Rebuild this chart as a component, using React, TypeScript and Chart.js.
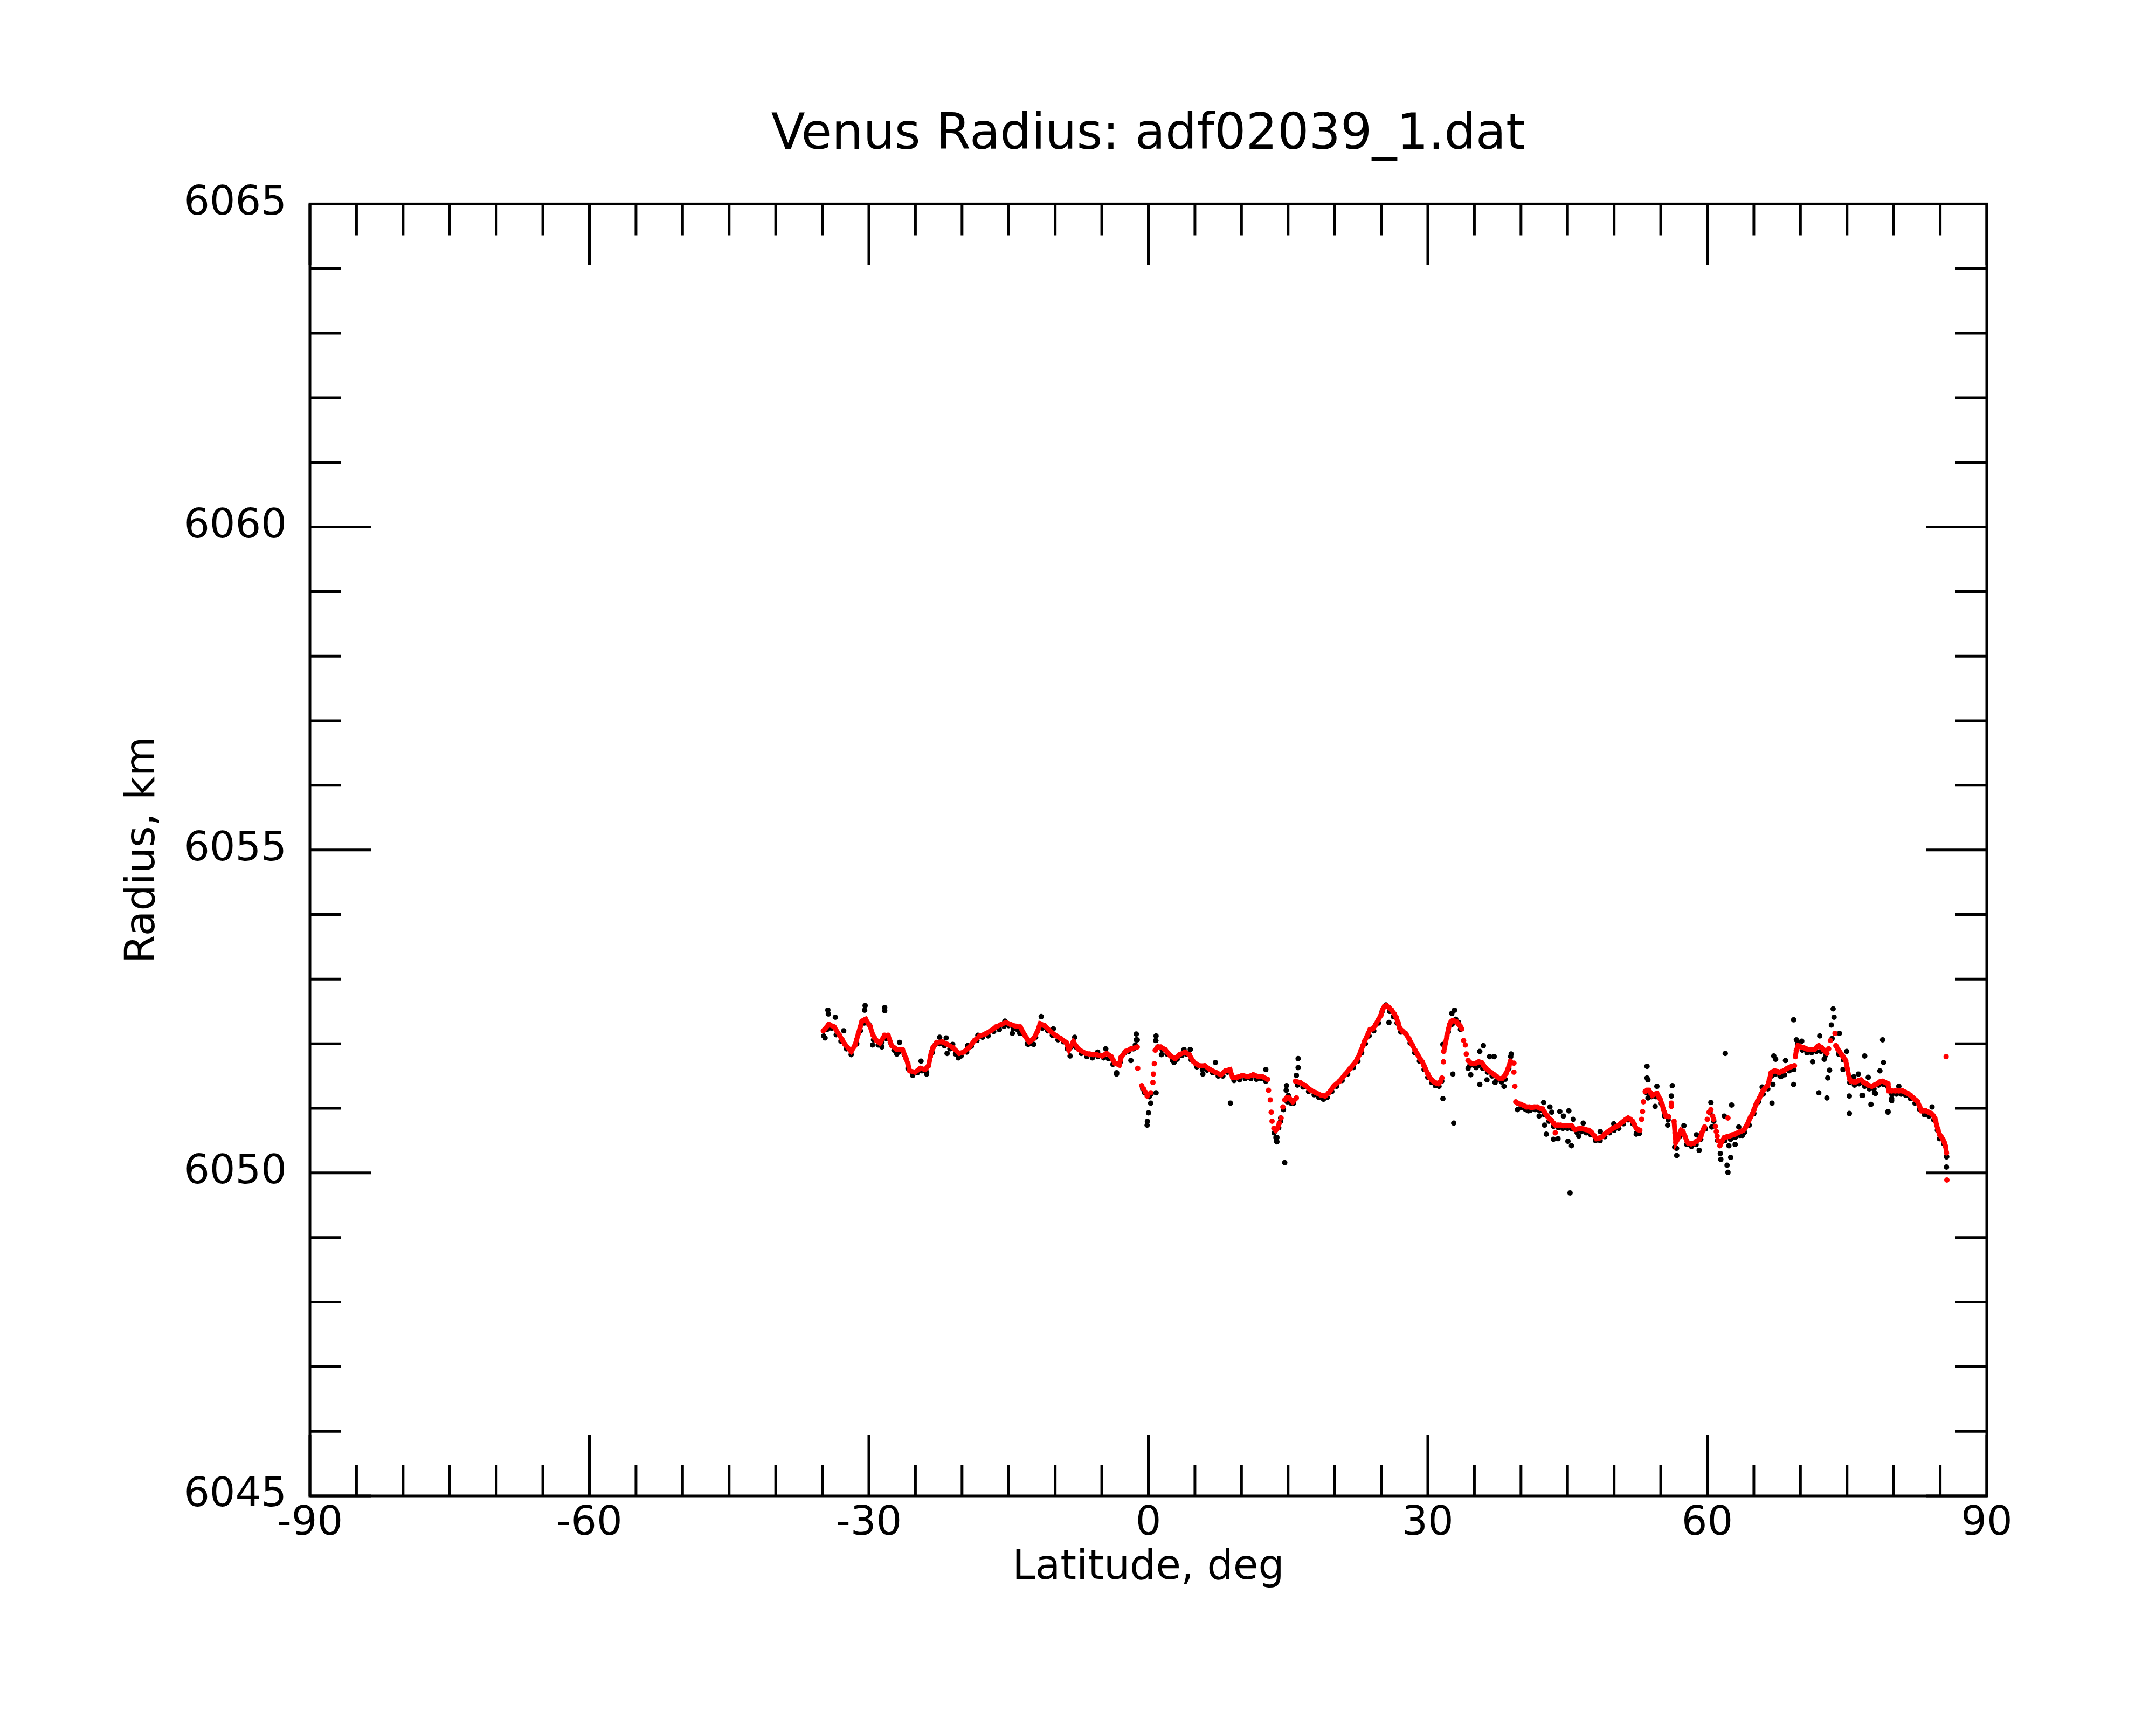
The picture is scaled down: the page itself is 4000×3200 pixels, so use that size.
import React, { useEffect, useRef } from "react";
import { Chart, registerables } from "chart.js";

Chart.register(...registerables);

// ---- axis definitions ----
const xTickLabels = [-90, -60, -30, 0, 30, 60, 90];
const yTickLabels = [6045, 6050, 6055, 6060, 6065];
const xMinorStep = 5;
const yMinorStep = 1;

const titleText = "Venus Radius: adf02039_1.dat";
const xTitle = "Latitude, deg";
const yTitle = "Radius, km";

// ---- smoothed radius (red), continuous runs : [latitude, radius] ----
const redRun1: [number, number][] = [
  [-34.89, 6052.2], [-34.3, 6052.3], [-33.73, 6052.26], [-33.15, 6052.13], [-32.86, 6052.06],
  [-32.57, 6051.99], [-31.9, 6051.88], [-31.51, 6051.97], [-31.32, 6052.06], [-31.12, 6052.16],
  [-30.93, 6052.26], [-30.74, 6052.35], [-30.35, 6052.38], [-29.87, 6052.27], [-29.58, 6052.14],
  [-29.39, 6052.09], [-29.19, 6052.05], [-28.81, 6052.01], [-28.32, 6052.13], [-27.94, 6052.13],
  [-27.55, 6051.97], [-26.97, 6051.91], [-26.39, 6051.91], [-26.01, 6051.77], [-25.81, 6051.69],
  [-25.62, 6051.58], [-25.04, 6051.56], [-24.46, 6051.62], [-23.98, 6051.6], [-23.59, 6051.66],
  [-23.4, 6051.8], [-23.3, 6051.87], [-23.11, 6051.94], [-22.72, 6052.02], [-22.14, 6052.03],
  [-21.57, 6051.99], [-20.99, 6051.94], [-20.31, 6051.85], [-19.83, 6051.87], [-19.25, 6051.94],
  [-18.67, 6052.05], [-18.09, 6052.12], [-17.51, 6052.15], [-16.93, 6052.2], [-16.35, 6052.26],
  [-15.77, 6052.3], [-15.29, 6052.33], [-14.81, 6052.3], [-14.23, 6052.27], [-13.75, 6052.26],
  [-13.26, 6052.13], [-13.03, 6052.08], [-12.78, 6052.03], [-12.3, 6052.08], [-11.91, 6052.19],
  [-11.76, 6052.25], [-11.62, 6052.31], [-11.14, 6052.28], [-10.56, 6052.2], [-9.98, 6052.13],
  [-9.4, 6052.08], [-8.82, 6052.02], [-8.53, 6051.91], [-8.05, 6052.03], [-7.47, 6051.91],
  [-6.7, 6051.85], [-6.31, 6051.84], [-5.93, 6051.83], [-5.54, 6051.83], [-4.96, 6051.81],
  [-4.48, 6051.85], [-3.99, 6051.8], [-3.8, 6051.75], [-3.61, 6051.7], [-3.12, 6051.67],
  [-2.93, 6051.79], [-2.45, 6051.88], [-1.87, 6051.92], [-1.19, 6051.95],
];

const redRun2: [number, number][] = [
  [0.74, 6051.9], [1.03, 6051.95], [1.32, 6051.95], [1.8, 6051.91], [2.09, 6051.86],
  [2.38, 6051.81], [2.86, 6051.77], [3.34, 6051.83], [3.92, 6051.87], [4.4, 6051.83],
  [4.79, 6051.73], [5.08, 6051.69], [5.47, 6051.66], [6.05, 6051.66], [6.62, 6051.6],
  [7.2, 6051.56], [7.78, 6051.52], [8.27, 6051.58], [8.75, 6051.6], [9.04, 6051.48],
  [9.52, 6051.48], [10.1, 6051.51], [10.68, 6051.49], [11.26, 6051.52], [11.84, 6051.49],
  [12.22, 6051.49], [12.8, 6051.45],
];

const redRun3: [number, number][] = [
  [13.48, 6050.69], [13.67, 6050.66], [13.86, 6050.69], [14.06, 6050.77],
];

const redRun4: [number, number][] = [
  [14.64, 6051.13], [14.83, 6051.16], [15.12, 6051.16], [15.5, 6051.1], [15.89, 6051.16],
];

const redRun5: [number, number][] = [
  [15.79, 6051.42], [16.28, 6051.4], [16.86, 6051.35], [17.44, 6051.28], [18.01, 6051.24],
  [18.59, 6051.2], [18.98, 6051.19], [19.37, 6051.24], [19.94, 6051.35], [20.52, 6051.42],
  [21.1, 6051.52], [21.68, 6051.62], [22.26, 6051.72], [22.45, 6051.77], [22.65, 6051.83],
  [22.84, 6051.9], [23.03, 6051.97], [23.22, 6052.04], [23.42, 6052.1], [23.61, 6052.16],
  [23.8, 6052.22], [24.09, 6052.23], [24.38, 6052.29], [24.67, 6052.37], [24.96, 6052.44],
  [25.15, 6052.53], [25.35, 6052.58], [25.54, 6052.59], [25.83, 6052.56], [26.12, 6052.52],
  [26.41, 6052.46], [26.6, 6052.41], [26.8, 6052.33], [26.99, 6052.24], [27.33, 6052.19],
  [27.66, 6052.15], [28.0, 6052.07], [28.34, 6051.98], [28.63, 6051.9], [28.92, 6051.83],
  [29.16, 6051.77], [29.4, 6051.72], [29.59, 6051.66], [29.78, 6051.6], [29.98, 6051.54],
  [30.17, 6051.48], [30.41, 6051.44], [30.65, 6051.41], [30.9, 6051.39], [31.14, 6051.38],
  [31.33, 6051.41], [31.52, 6051.47],
];

const redRun6: [number, number][] = [
  [31.71, 6051.88], [31.81, 6051.95], [31.91, 6052.02], [32.05, 6052.12], [32.2, 6052.22],
  [32.34, 6052.3], [32.49, 6052.34], [32.68, 6052.36], [32.87, 6052.35], [33.07, 6052.34],
  [33.26, 6052.31], [33.45, 6052.28], [33.65, 6052.23],
];

const redRun7: [number, number][] = [
  [34.32, 6051.74], [34.61, 6051.7], [34.9, 6051.69], [35.19, 6051.7], [35.48, 6051.72],
  [35.77, 6051.71], [35.96, 6051.67], [36.16, 6051.63], [36.54, 6051.58], [36.83, 6051.55],
  [37.12, 6051.52], [37.41, 6051.49], [37.7, 6051.46], [37.95, 6051.46], [38.18, 6051.49],
  [38.4, 6051.54], [38.57, 6051.6], [38.72, 6051.66], [38.86, 6051.73],
];

const redRun8: [number, number][] = [
  [39.63, 6051.08], [40.02, 6051.06], [40.31, 6051.04], [40.6, 6051.02], [40.89, 6051.02],
  [41.17, 6051.01], [41.46, 6051.02], [41.75, 6051.02], [42.04, 6051.0], [42.33, 6050.99],
  [42.57, 6050.93], [42.82, 6050.88], [43.06, 6050.84], [43.3, 6050.81], [43.49, 6050.77],
  [43.68, 6050.74], [43.97, 6050.74], [44.26, 6050.74], [44.55, 6050.73], [44.84, 6050.73],
  [45.13, 6050.73], [45.42, 6050.73], [45.62, 6050.7], [45.81, 6050.67], [46.1, 6050.68],
  [46.39, 6050.69], [46.68, 6050.68], [46.97, 6050.67], [47.26, 6050.66], [47.55, 6050.63],
  [47.84, 6050.58], [48.12, 6050.53], [48.41, 6050.54], [48.7, 6050.56], [48.99, 6050.6],
  [49.28, 6050.63], [49.57, 6050.66], [49.86, 6050.69], [50.15, 6050.71], [50.44, 6050.73],
  [50.73, 6050.77], [51.02, 6050.8], [51.26, 6050.83], [51.5, 6050.85], [51.74, 6050.83],
  [51.98, 6050.8], [52.18, 6050.75], [52.37, 6050.69], [52.56, 6050.67], [52.76, 6050.66],
];

const redRun9: [number, number][] = [
  [53.34, 6051.26], [53.53, 6051.28], [53.73, 6051.28], [53.92, 6051.24], [54.11, 6051.2],
  [54.35, 6051.22], [54.59, 6051.23], [54.79, 6051.18], [54.98, 6051.13], [55.17, 6051.05],
  [55.27, 6050.99], [55.4, 6050.94], [55.56, 6050.88], [55.85, 6050.87],
];

const redRun10: [number, number][] = [
  [56.43, 6050.8], [56.53, 6050.62], [56.62, 6050.47], [56.81, 6050.52], [57.01, 6050.6],
  [57.2, 6050.66], [57.39, 6050.64], [57.59, 6050.57], [57.78, 6050.5], [57.97, 6050.46],
  [58.26, 6050.45], [58.55, 6050.46], [58.84, 6050.49], [59.13, 6050.52], [59.32, 6050.57],
  [59.42, 6050.62], [59.61, 6050.68], [59.71, 6050.71],
];

const redRun11: [number, number][] = [
  [61.35, 6050.42], [61.54, 6050.48], [61.83, 6050.55], [62.12, 6050.56], [62.41, 6050.57],
  [62.7, 6050.59], [62.99, 6050.6], [63.28, 6050.62], [63.57, 6050.64], [63.86, 6050.66],
  [64.05, 6050.69], [64.25, 6050.74], [64.44, 6050.8], [64.63, 6050.86], [64.83, 6050.91],
  [65.02, 6050.98], [65.21, 6051.05], [65.4, 6051.11], [65.6, 6051.16], [65.79, 6051.22],
  [65.98, 6051.27], [66.18, 6051.31], [66.47, 6051.35], [66.66, 6051.44], [66.85, 6051.55],
  [67.05, 6051.57], [67.24, 6051.58], [67.53, 6051.57], [67.72, 6051.55], [67.92, 6051.57],
  [68.2, 6051.58], [68.49, 6051.61], [68.78, 6051.63], [69.07, 6051.65], [69.36, 6051.66],
];

const redRun12: [number, number][] = [
  [69.46, 6051.8], [69.56, 6051.9], [69.75, 6051.97], [70.04, 6051.95], [70.33, 6051.94],
  [70.62, 6051.92], [70.91, 6051.91], [71.2, 6051.91], [71.49, 6051.91], [71.78, 6051.95],
  [71.97, 6051.97], [72.26, 6051.94], [72.45, 6051.91], [72.84, 6051.85],
];

const redRun13: [number, number][] = [
  [73.8, 6051.97], [74.0, 6051.92], [74.19, 6051.88], [74.38, 6051.84], [74.57, 6051.8],
  [74.86, 6051.74], [75.06, 6051.6], [75.25, 6051.46], [75.44, 6051.42], [75.69, 6051.41],
  [75.93, 6051.41], [76.22, 6051.43], [76.51, 6051.44], [76.8, 6051.4], [77.09, 6051.38],
  [77.38, 6051.35], [77.66, 6051.34], [77.95, 6051.36], [78.24, 6051.38], [78.53, 6051.41],
  [78.83, 6051.42], [79.11, 6051.4], [79.4, 6051.38], [79.5, 6051.27], [79.79, 6051.27],
  [80.18, 6051.27], [80.56, 6051.27], [80.95, 6051.27], [81.24, 6051.25], [81.53, 6051.23],
  [81.82, 6051.2], [82.11, 6051.16], [82.35, 6051.13], [82.59, 6051.1], [82.79, 6051.03],
  [82.98, 6050.96], [83.22, 6050.96], [83.46, 6050.96], [83.75, 6050.94], [84.04, 6050.92],
  [84.23, 6050.89], [84.42, 6050.85], [84.52, 6050.8], [84.62, 6050.74], [84.76, 6050.67],
  [84.91, 6050.6], [85.1, 6050.56], [85.29, 6050.52], [85.48, 6050.46], [85.58, 6050.41],
  [85.68, 6050.31],
];

// ---- smoothed radius (red), isolated points ----
const redSparse: [number, number][] = [
  [-1.14, 6051.62], [-0.71, 6051.35], [-0.52, 6051.3], [-0.32, 6051.25], [-0.13, 6051.19],
  [0.25, 6051.24], [0.49, 6051.4], [0.54, 6051.53], [0.64, 6051.69],
  [12.9, 6051.28], [13.09, 6051.13], [13.19, 6050.94], [13.28, 6050.8], [14.25, 6050.85],
  [14.44, 6051.02], [31.68, 6051.72], [33.84, 6052.05], [34.03, 6051.98], [34.13, 6051.84],
  [39.24, 6051.7], [39.24, 6051.56], [39.34, 6051.34], [39.44, 6051.1], [43.68, 6050.62],
  [52.95, 6050.83], [53.05, 6050.95], [53.15, 6051.1], [56.14, 6051.08], [56.14, 6051.03],
  [60.0, 6050.83], [60.19, 6050.94], [60.39, 6050.98], [60.58, 6050.88], [60.68, 6050.83],
  [60.87, 6050.72], [60.97, 6050.64], [61.06, 6050.57], [61.16, 6050.5], [62.22, 6050.85],
  [73.03, 6051.92], [73.22, 6052.05], [73.71, 6052.16], [85.64, 6051.8], [85.72, 6049.89],
];

// ---- raw radius (black) close to the smoothed profile ----
const blackNear: [number, number][] = [
  [-34.85, 6052.12], [-34.5, 6052.22], [-34.0, 6052.24], [-33.5, 6052.14], [-33.0, 6052.04],
  [-32.4, 6051.92], [-31.9, 6051.83], [-31.3, 6052.0], [-30.9, 6052.2], [-30.5, 6052.32],
  [-30.0, 6052.3], [-29.5, 6052.06], [-29.0, 6051.98], [-28.6, 6052.02], [-28.1, 6052.08],
  [-27.7, 6052.02], [-27.3, 6051.9], [-26.8, 6051.87], [-26.2, 6051.83], [-25.8, 6051.62],
  [-25.3, 6051.51], [-24.8, 6051.55], [-24.3, 6051.58], [-23.8, 6051.56], [-23.2, 6051.86],
  [-22.9, 6051.98], [-22.4, 6052.0], [-21.9, 6051.97], [-21.3, 6051.92], [-20.7, 6051.84],
  [-20.1, 6051.81], [-19.5, 6051.87], [-19.0, 6051.96], [-18.4, 6052.05], [-17.8, 6052.1],
  [-17.2, 6052.12], [-16.6, 6052.19], [-16.0, 6052.22], [-15.5, 6052.27], [-15.0, 6052.28],
  [-14.5, 6052.23], [-14.0, 6052.21], [-13.5, 6052.16], [-13.0, 6052.0], [-12.5, 6052.0],
  [-12.1, 6052.1], [-11.4, 6052.24], [-10.8, 6052.2], [-10.3, 6052.13], [-9.7, 6052.06],
  [-9.1, 6052.03], [-8.7, 6051.92], [-8.3, 6051.95], [-7.8, 6051.95], [-7.2, 6051.85],
  [-6.6, 6051.8], [-6.0, 6051.78], [-5.4, 6051.8], [-4.8, 6051.78], [-4.3, 6051.77],
  [-3.8, 6051.68], [-3.4, 6051.55], [-3.0, 6051.72], [-2.6, 6051.85], [-2.1, 6051.88],
  [-1.6, 6051.92], [-1.4, 6051.98], [-1.3, 6052.06], [-0.6, 6051.3], [-0.4, 6051.24],
  [0.1, 6051.18], [0.3, 6051.22], [0.8, 6052.05], [1.0, 6051.95], [1.5, 6051.9],
  [2.0, 6051.84], [2.6, 6051.74], [3.1, 6051.76], [3.6, 6051.82], [4.1, 6051.84],
  [4.6, 6051.75], [5.2, 6051.64], [5.8, 6051.6], [6.3, 6051.59], [6.9, 6051.55],
  [7.5, 6051.5], [8.0, 6051.5], [8.5, 6051.56], [9.2, 6051.43], [9.8, 6051.44],
  [10.4, 6051.46], [11.0, 6051.46], [11.6, 6051.45], [12.1, 6051.46], [12.6, 6051.42],
  [13.5, 6050.62], [13.7, 6050.55], [13.8, 6050.48], [14.2, 6050.8], [14.5, 6050.98],
  [14.9, 6051.1], [15.3, 6051.08], [15.6, 6051.08], [16.0, 6051.36], [16.6, 6051.33],
  [17.2, 6051.26], [17.8, 6051.21], [18.3, 6051.17], [18.8, 6051.14], [19.2, 6051.17],
  [19.7, 6051.26], [20.2, 6051.34], [20.8, 6051.43], [21.4, 6051.53], [22.0, 6051.63],
  [22.5, 6051.73], [22.9, 6051.86], [23.3, 6052.0], [23.7, 6052.12], [24.2, 6052.2],
  [24.7, 6052.32], [25.1, 6052.5], [25.5, 6052.6], [25.9, 6052.5], [26.3, 6052.42],
  [26.7, 6052.32], [27.1, 6052.18], [27.6, 6052.16], [28.1, 6052.01], [28.6, 6051.86],
  [29.1, 6051.73], [29.6, 6051.6], [30.0, 6051.48], [30.4, 6051.4], [30.8, 6051.35],
  [31.2, 6051.34], [31.5, 6051.42], [32.2, 6052.18], [32.6, 6052.3], [33.0, 6052.38],
  [33.3, 6052.33], [33.5, 6052.22], [34.5, 6051.66], [35.0, 6051.66], [35.4, 6051.66],
  [35.9, 6051.62], [36.4, 6051.56], [36.9, 6051.5], [37.4, 6051.44], [37.9, 6051.41],
  [38.3, 6051.45], [38.7, 6051.62], [38.9, 6051.8], [40.0, 6051.01], [40.5, 6050.98],
  [41.0, 6050.97], [41.5, 6050.98], [42.0, 6050.96], [42.5, 6050.9], [43.0, 6050.8],
  [43.5, 6050.72], [44.0, 6050.7], [44.5, 6050.69], [45.0, 6050.69], [45.5, 6050.68],
  [46.0, 6050.63], [46.5, 6050.64], [47.0, 6050.62], [47.5, 6050.59], [48.0, 6050.5],
  [48.5, 6050.5], [49.0, 6050.56], [49.5, 6050.62], [50.0, 6050.66], [50.5, 6050.69],
  [51.0, 6050.76], [51.5, 6050.82], [52.0, 6050.76], [52.4, 6050.62], [52.7, 6050.61],
  [53.5, 6051.24], [54.0, 6051.18], [54.5, 6051.18], [55.0, 6051.08], [55.4, 6050.88],
  [55.8, 6050.82], [56.5, 6050.4], [56.7, 6050.38], [57.0, 6050.56], [57.3, 6050.6],
  [57.8, 6050.44], [58.3, 6050.41], [58.8, 6050.44], [59.3, 6050.52], [59.8, 6050.68],
  [60.3, 6050.93], [60.7, 6050.8], [61.1, 6050.5], [61.4, 6050.3], [61.9, 6050.5],
  [62.5, 6050.52], [63.0, 6050.55], [63.5, 6050.58], [64.0, 6050.63], [64.5, 6050.74],
  [65.0, 6050.92], [65.5, 6051.1], [66.0, 6051.22], [66.5, 6051.3], [66.9, 6051.5],
  [67.3, 6051.53], [67.8, 6051.5], [68.3, 6051.52], [68.8, 6051.58], [69.3, 6051.6],
  [69.7, 6052.0], [70.2, 6051.9], [70.7, 6051.86], [71.2, 6051.86], [71.7, 6051.88],
  [72.2, 6051.88], [72.7, 6051.82], [73.4, 6052.08], [74.1, 6051.84], [74.6, 6051.75],
  [75.3, 6051.4], [75.8, 6051.36], [76.3, 6051.38], [76.9, 6051.34], [77.4, 6051.3],
  [77.9, 6051.3], [78.4, 6051.36], [78.9, 6051.37], [79.4, 6051.33], [79.8, 6051.22],
  [80.3, 6051.22], [80.8, 6051.22], [81.3, 6051.2], [81.8, 6051.15], [82.3, 6051.08],
  [82.8, 6050.98], [83.3, 6050.9], [83.8, 6050.88], [84.3, 6050.82], [84.7, 6050.66],
  [85.0, 6050.53], [85.4, 6050.45], [85.7, 6050.25],
];

// ---- raw radius (black) scattered points ----
const blackScatter: [number, number][] = [
  [-34.4, 6052.52], [-34.35, 6052.46], [-34.7, 6052.09], [-33.6, 6052.41], [-32.7, 6052.2],
  [-30.4, 6052.59], [-30.45, 6052.52], [-28.3, 6052.56], [-28.3, 6052.51], [-29.6, 6051.98],
  [-28.6, 6051.95], [-27.0, 6051.84], [-26.7, 6052.02], [-25.3, 6051.52], [-24.4, 6051.73],
  [-23.8, 6051.53], [-22.4, 6052.1], [-21.7, 6052.09], [-21.6, 6051.85], [-21.0, 6051.99],
  [-20.4, 6051.78], [-19.4, 6051.97], [-18.3, 6052.13], [-16.0, 6052.22], [-15.4, 6052.35],
  [-14.6, 6052.16], [-13.8, 6052.16], [-12.9, 6051.99], [-12.3, 6051.99], [-11.5, 6052.42],
  [-10.2, 6052.23], [-8.4, 6051.81], [-7.9, 6052.1], [-6.6, 6051.81],
  [-1.29, 6052.15], [-1.19, 6052.06], [-1.87, 6051.74], [-3.41, 6051.53], [-0.52, 6051.29],
  [0.25, 6051.08], [0.02, 6050.93], [-0.13, 6050.74], [-0.1, 6050.8], [0.83, 6052.12],
  [0.8, 6052.05], [0.83, 6051.24], [1.41, 6051.83], [8.81, 6051.08], [12.61, 6051.6],
  [13.77, 6050.49], [13.8, 6050.55], [14.64, 6050.16], [14.83, 6051.35], [14.8, 6051.28],
  [16.08, 6051.77], [16.08, 6051.63], [15.89, 6051.51], [15.02, 6051.2], [5.85, 6051.53],
  [7.2, 6051.71], [4.5, 6051.91], [3.83, 6051.91], [2.76, 6051.71], [-4.57, 6051.92],
  [-5.44, 6051.87], [14.0, 6050.7], [14.2, 6050.85],
  [25.83, 6052.33], [31.62, 6051.15], [32.78, 6050.77], [32.68, 6051.53], [32.87, 6052.52],
  [32.58, 6052.47], [31.62, 6051.99], [35.96, 6051.97], [35.58, 6051.88], [36.64, 6051.8],
  [37.12, 6051.8], [38.95, 6051.84], [34.32, 6051.62], [34.61, 6051.52], [35.19, 6051.63],
  [35.58, 6051.37], [36.35, 6051.44], [37.22, 6051.4], [38.18, 6051.34], [39.63, 6050.98],
  [40.79, 6050.96], [41.95, 6050.88], [42.43, 6051.09], [43.11, 6051.02], [43.3, 6050.94],
  [44.17, 6050.95], [44.56, 6050.88], [45.14, 6050.96], [45.62, 6050.83], [42.53, 6050.74],
  [42.72, 6050.6], [43.49, 6050.52], [43.98, 6050.53], [45.04, 6050.49], [45.42, 6050.42],
  [45.27, 6049.69], [46.2, 6050.57], [46.68, 6050.77], [48.51, 6050.64], [49.96, 6050.76],
  [53.53, 6051.65], [53.53, 6051.47], [53.63, 6051.16], [52.37, 6050.6],
  [53.63, 6051.44], [54.59, 6051.34], [54.4, 6051.03], [56.24, 6051.35], [56.14, 6051.19],
  [55.75, 6050.74], [56.72, 6050.27], [57.49, 6050.73], [58.84, 6050.59], [59.13, 6050.35],
  [60.39, 6051.09], [60.48, 6050.71], [61.93, 6051.85], [62.61, 6051.05], [61.83, 6050.88],
  [61.45, 6050.21], [62.12, 6050.12], [62.22, 6050.01], [62.51, 6050.24], [62.32, 6050.42],
  [62.99, 6050.44], [63.38, 6050.71], [63.76, 6050.58], [65.89, 6051.33], [67.05, 6051.37],
  [66.95, 6051.08], [67.14, 6051.81], [67.34, 6051.76], [68.4, 6051.74], [67.92, 6051.49],
  [69.27, 6052.37], [69.27, 6051.37], [69.56, 6052.06], [70.14, 6052.04], [71.3, 6051.72],
  [72.07, 6052.12], [72.55, 6051.76], [71.97, 6051.24], [72.84, 6051.16], [73.51, 6052.54],
  [73.61, 6052.41], [73.32, 6052.29], [74.19, 6052.16], [73.13, 6051.59], [72.93, 6051.47],
  [74.57, 6051.6], [74.96, 6051.88], [75.25, 6051.19], [75.25, 6050.92], [75.73, 6051.49],
  [76.22, 6051.53], [76.61, 6051.2], [76.9, 6051.81], [77.28, 6051.48], [77.57, 6051.06],
  [77.95, 6051.24], [78.53, 6051.58], [78.92, 6051.71], [78.82, 6052.06], [79.4, 6050.95],
  [79.79, 6051.15], [80.56, 6051.34], [76.7, 6051.2], [78.05, 6051.23], [79.4, 6050.94],
  [79.79, 6051.12], [84.13, 6051.02], [84.91, 6050.53], [85.68, 6050.25], [85.68, 6050.09],
];

const redRuns = [
  redRun1, redRun2, redRun3, redRun4, redRun5, redRun6, redRun7,
  redRun8, redRun9, redRun10, redRun11, redRun12, redRun13,
];

const toXY = (arr: [number, number][]) => arr.map(([x, y]) => ({ x, y }));

const FONT = "DejaVu Sans";
const RED = "#ff0000";
const BLACK = "#000000";

const framePlugin = {
  id: "frameTicks",
  afterDatasetsDraw(chart: any) {
    const { ctx, chartArea: a, scales } = chart;
    const xs = scales.x;
    const ys = scales.y;
    ctx.save();
    ctx.strokeStyle = "#000";
    ctx.lineWidth = 5;
    ctx.lineCap = "butt";
    ctx.beginPath();
    for (let v = xs.min; v <= xs.max + 1e-9; v += xMinorStep) {
      const px = xs.getPixelForValue(v);
      const len = xTickLabels.includes(Math.round(v)) ? 113 : 58;
      ctx.moveTo(px, a.bottom);
      ctx.lineTo(px, a.bottom - len);
      ctx.moveTo(px, a.top);
      ctx.lineTo(px, a.top + len);
    }
    for (let v = ys.min; v <= ys.max + 1e-9; v += yMinorStep) {
      const py = ys.getPixelForValue(v);
      const len = yTickLabels.includes(Math.round(v)) ? 113 : 58;
      ctx.moveTo(a.left, py);
      ctx.lineTo(a.left + len, py);
      ctx.moveTo(a.right, py);
      ctx.lineTo(a.right - len, py);
    }
    ctx.stroke();
    ctx.lineJoin = "miter";
    ctx.strokeRect(a.left, a.top, a.right - a.left, a.bottom - a.top);
    ctx.restore();
  },
};

export default function App() {
  const canvasRef = useRef<HTMLCanvasElement | null>(null);

  useEffect(() => {
    const canvas = canvasRef.current;
    if (!canvas) return;

    const redLineSets = redRuns.map((run, i) => ({
      label: "smoothed " + (i + 1),
      data: toXY(run),
      showLine: true,
      borderColor: RED,
      backgroundColor: RED,
      borderWidth: 9,
      pointRadius: 5,
      pointHoverRadius: 5,
      pointBorderWidth: 0,
      tension: 0,
      order: 0,
    }));

    const chart = new Chart(canvas, {
      type: "scatter",
      data: {
        datasets: [
          ...redLineSets,
          {
            label: "smoothed isolated",
            data: toXY(redSparse),
            backgroundColor: RED,
            borderColor: RED,
            borderWidth: 0,
            pointRadius: 5,
            pointHoverRadius: 5,
            order: 0,
          },
          {
            label: "raw",
            data: toXY([...blackNear, ...blackScatter]),
            backgroundColor: BLACK,
            borderColor: BLACK,
            borderWidth: 0,
            pointRadius: 5,
            pointHoverRadius: 5,
            order: 1,
          },
        ],
      },
      options: {
        animation: false,
        responsive: false,
        devicePixelRatio: 1,
        events: [],
        layout: { padding: { top: 0, left: 0, right: 314, bottom: 0 } },
        plugins: {
          legend: { display: false },
          tooltip: { enabled: false },
          title: {
            display: true,
            fullSize: false,
            text: titleText,
            color: "#000",
            font: { family: FONT, size: 92, weight: "normal", lineHeight: 1.2 },
            padding: { top: 197, bottom: 71 },
          },
        },
        scales: {
          x: {
            type: "linear",
            position: "bottom",
            min: -90,
            max: 90,
            afterBuildTicks: (s: any) => {
              s.ticks = xTickLabels.map((v) => ({ value: v }));
            },
            afterFit: (s: any) => {
              s.height = 425;
            },
            grid: { display: false, drawTicks: false },
            border: { display: false },
            ticks: {
              color: "#000",
              font: { family: FONT, size: 75 },
              padding: 8,
              maxRotation: 0,
              minRotation: 0,
              autoSkip: false,
              callback: (v: any) => String(v),
            },
            title: {
              display: true,
              text: xTitle,
              color: "#000",
              font: { family: FONT, size: 76, lineHeight: 1.2 },
              padding: { top: 0, bottom: 245 },
            },
          },
          y: {
            type: "linear",
            position: "left",
            min: 6045,
            max: 6065,
            afterBuildTicks: (s: any) => {
              s.ticks = yTickLabels.map((v) => ({ value: v }));
            },
            afterFit: (s: any) => {
              s.width = 575;
            },
            grid: { display: false, drawTicks: false },
            border: { display: false },
            ticks: {
              color: "#000",
              font: { family: FONT, size: 75 },
              padding: 43,
              autoSkip: false,
              callback: (v: any) => String(v),
            },
            title: {
              display: true,
              text: yTitle,
              color: "#000",
              font: { family: FONT, size: 76, lineHeight: 1.2 },
              padding: { top: 221, bottom: 0 },
            },
          },
        },
      },
      plugins: [framePlugin],
    });
    return () => chart.destroy();
  }, []);

  return (
    <div style={{ position: "absolute", left: 0, top: 0, width: 4000, height: 3200, background: "#fff" }}>
      <canvas ref={canvasRef} width={4000} height={3200} style={{ display: "block", width: 4000, height: 3200 }} />
    </div>
  );
}
